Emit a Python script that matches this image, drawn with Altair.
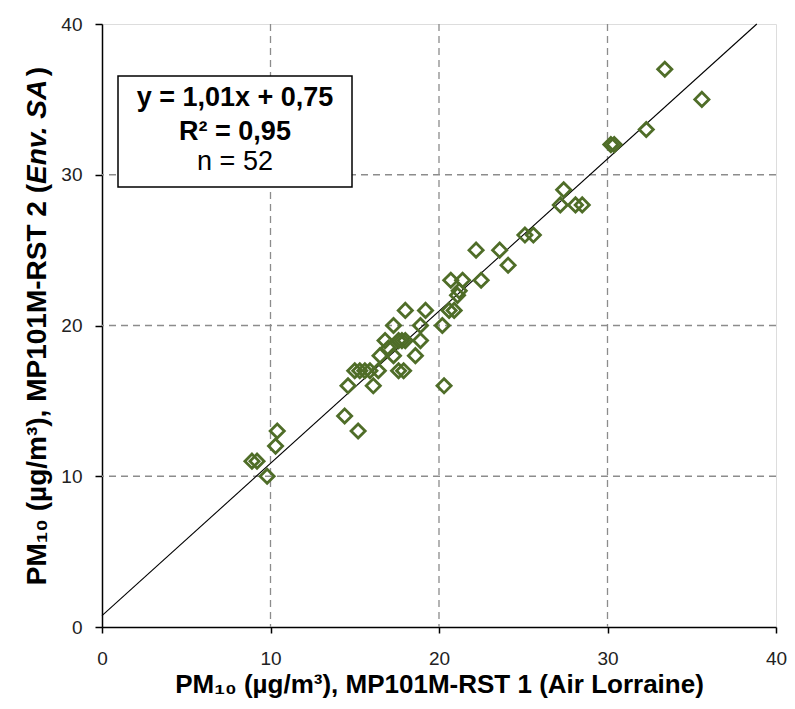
import altair as alt
import pandas as pd

# ---- data ----
x_vals = [33.4, 35.6, 32.3, 30.2, 30.4, 27.4, 27.2, 28.1, 28.5, 25.1,
          25.6, 22.2, 23.6, 24.1, 20.7, 21.4, 22.5, 21.1, 20.6, 20.9,
          18.0, 19.2, 17.3, 18.9, 20.2, 16.8, 17.6, 18.0, 18.9, 17.3,
          16.5, 18.6, 17.6, 17.9, 15.0, 15.3, 15.6, 15.9, 16.4, 14.6,
          16.1, 20.3, 14.4, 15.2, 10.4, 10.3, 8.9, 9.2, 9.8, 17.0,
          17.8, 21.2]
y_vals = [37, 35, 33, 32, 32, 29, 28, 28, 28, 26,
          26, 25, 25, 24, 23, 23, 23, 22, 21, 21,
          21, 21, 20, 20, 20, 19, 19, 19, 19, 18,
          18, 18, 17, 17, 17, 17, 17, 17, 17, 16,
          16, 16, 14, 13, 13, 12, 11, 11, 10, 18.5,
          19, 22.3]
grid_vals = [10, 20, 30]
tick_vals = [0, 10, 20, 30, 40]
slope = 1.01
intercept = 0.75
eq_lines = ["y = 1,01x + 0,75", "R² = 0,95", "n = 52"]

x_title = "PM₁₀ (µg/m³), MP101M-RST 1 (Air Lorraine)"
y_title_parts = ["PM₁₀ (µg/m³), MP101M-RST 2 (", "Env. SA", ")"]

GREEN = "#4f6d28"
FONT = "Liberation Sans"
W, H = 674, 603
TITLE_SIZE = 28

df = pd.DataFrame({"x": x_vals, "y": y_vals})
grid_df = pd.DataFrame({"g": grid_vals})
line_df = pd.DataFrame({"x": [0.0, (40 - intercept) / slope]})

xscale = alt.Scale(domain=[0, 40], nice=False, zero=False)
yscale = alt.Scale(domain=[0, 40], nice=False, zero=False)

xaxis = alt.Axis(values=tick_vals, grid=False, title=x_title,
                 titleFont=FONT, titleFontSize=26, titleFontWeight="bold",
                 titleColor="#000", titleX=W / 2, titleY=57,
                 titleBaseline="middle", titleAlign="center",
                 labelFont=FONT, labelFontSize=19, labelColor="#222",
                 labelPadding=16, tickSize=6, tickColor="#000", tickWidth=1.5,
                 domainColor="#000", domainWidth=1.5, labelFlush=False)
yaxis = alt.Axis(values=tick_vals, grid=False, title=None,
                 labelFont=FONT, labelFontSize=19, labelColor="#222",
                 labelPadding=13, tickSize=7, tickColor="#000", tickWidth=1.5,
                 domainColor="#000", domainWidth=1.5, labelFlush=False)

vgrid = alt.Chart(grid_df).mark_rule(color="#8c8c8c", strokeWidth=1.3, strokeDash=[7, 5]).encode(
    x=alt.X("g:Q", scale=xscale, axis=xaxis))
hgrid = alt.Chart(grid_df).mark_rule(color="#8c8c8c", strokeWidth=1.3, strokeDash=[7, 5]).encode(
    y=alt.Y("g:Q", scale=yscale, axis=yaxis))

fit = alt.Chart(line_df).transform_calculate(
    y=f"{slope} * datum.x + {intercept}"
).mark_line(color="#000", strokeWidth=1.1).encode(
    x=alt.X("x:Q", scale=xscale, axis=xaxis),
    y=alt.Y("y:Q", scale=yscale, axis=yaxis))

pts = alt.Chart(df).mark_point(shape="diamond", filled=False, size=200,
                               strokeWidth=2.8, color=GREEN, opacity=1).encode(
    x=alt.X("x:Q", scale=xscale, axis=xaxis),
    y=alt.Y("y:Q", scale=yscale, axis=yaxis))

one = pd.DataFrame({"a": [0]})
box = alt.Chart(one).mark_rect(fill="white", stroke="#000", strokeWidth=1.5).encode(
    x=alt.value(16), x2=alt.value(250), y=alt.value(52), y2=alt.value(163))


def txt(s, y, weight):
    return alt.Chart(one).mark_text(font=FONT, fontSize=27, fontWeight=weight, color="#000",
                                    align="center", baseline="middle").encode(
        x=alt.value(133), y=alt.value(y), text=alt.value(s))


t1 = txt(eq_lines[0], 74, "bold")
t2 = txt(eq_lines[1], 108, "bold")
t3 = txt(eq_lines[2], 138, "normal")

# y-axis title, built from pieces so "Env. SA" can be italic
TX = -64      # horizontal centre of the rotated title
P = 160       # junction between the upright part and the italic part
env_w = 3.78 * TITLE_SIZE


def ytxt(s, y, align, style):
    return alt.Chart(one).mark_text(font=FONT, fontSize=TITLE_SIZE, fontWeight="bold",
                                    fontStyle=style, color="#000", angle=270,
                                    align=align, baseline="middle").encode(
        x=alt.value(TX), y=alt.value(y), text=alt.value(s))


y1 = ytxt(y_title_parts[0], P, "right", "normal")
y2 = ytxt(y_title_parts[1], P, "left", "italic")
y3 = ytxt(y_title_parts[2], P - env_w - 2, "left", "normal")

chart = alt.layer(vgrid, hgrid, fit, pts, box, t1, t2, t3, y1, y2, y3).properties(
    width=W, height=H,
    autosize=alt.AutoSizeParams(type="none"),
    padding={"left": 94, "top": 16, "right": 11, "bottom": 74},
).configure_view(stroke="#333", strokeWidth=1.5).configure(background="white")

chart.save("out.html", embed_options={"renderer": "svg", "actions": False})
